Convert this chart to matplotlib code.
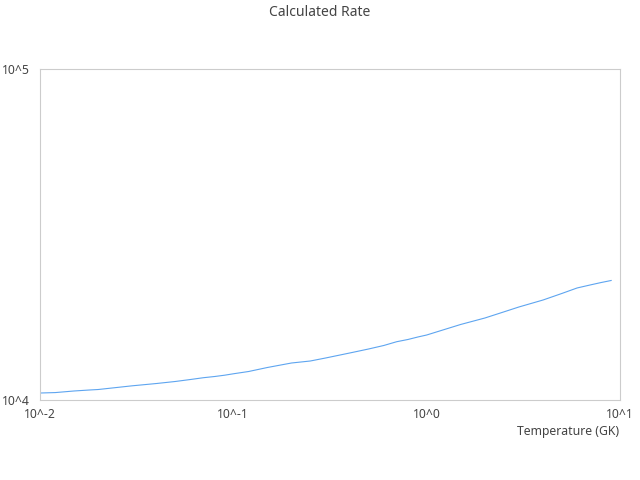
import matplotlib
matplotlib.use("Agg")
import matplotlib.pyplot as plt
from matplotlib.ticker import FixedLocator, FixedFormatter, NullLocator

plt.rcParams['font.family'] = ['Noto Sans', 'DejaVu Sans']

temperature = [0.01, 0.012, 0.015, 0.018, 0.02, 0.03, 0.04, 0.05, 0.06, 0.07, 0.08, 0.09,
               0.1, 0.12, 0.15, 0.2, 0.25, 0.3, 0.4, 0.5, 0.6, 0.7, 0.8, 0.9,
               1.0, 1.5, 2.0, 2.5, 3.0, 4.0, 5.0, 6.0, 7.0, 8.0, 9.0]
rate = [10498, 10530, 10647, 10720, 10757, 11038, 11215, 11373, 11532, 11677, 11775, 11881,
        12000, 12193, 12537, 12936, 13116, 13393, 13868, 14257, 14611, 15001, 15234, 15500,
        15716, 16913, 17689, 18449, 19099, 20050, 20980, 21800, 22256, 22646, 22963]

x_ticks = [0.01, 0.1, 1, 10]
x_tick_labels = ["10^-2", "10^-1", "10^0", "10^1"]
y_ticks = [1e4, 1e5]
y_tick_labels = ["10^4", "10^5"]

fig = plt.figure(figsize=(6.4, 4.8), dpi=100)
ax = fig.add_axes([40/640, 80/480, 580/640, 331/480])
ax.plot(temperature, rate, color='#5ea5f0', linewidth=0.8)
ax.set_xscale('log')
ax.set_yscale('log')
ax.set_xlim(0.01, 10)
ax.set_ylim(1e4, 1e5)

ax.xaxis.set_major_locator(FixedLocator(x_ticks))
ax.xaxis.set_major_formatter(FixedFormatter(x_tick_labels))
ax.xaxis.set_minor_locator(NullLocator())
ax.yaxis.set_major_locator(FixedLocator(y_ticks))
ax.yaxis.set_major_formatter(FixedFormatter(y_tick_labels))
ax.yaxis.set_minor_locator(NullLocator())

ax.tick_params(axis='both', length=0, labelsize=8.8, colors='#444444')
ax.tick_params(axis='x', pad=6)
ax.tick_params(axis='y', pad=7)
for s in ax.spines.values():
    s.set_color('#cccccc')
    s.set_linewidth(0.8)

fig.text(619/640, 1 - 431/480, "Temperature (GK)", ha='right', va='center',
         fontsize=8.8, color='#444444')
fig.text(0.5, 1 - 12/480, "Calculated Rate", ha='center', va='center',
         fontsize=10, color='#444444')

fig.savefig("out.png", dpi=100)
